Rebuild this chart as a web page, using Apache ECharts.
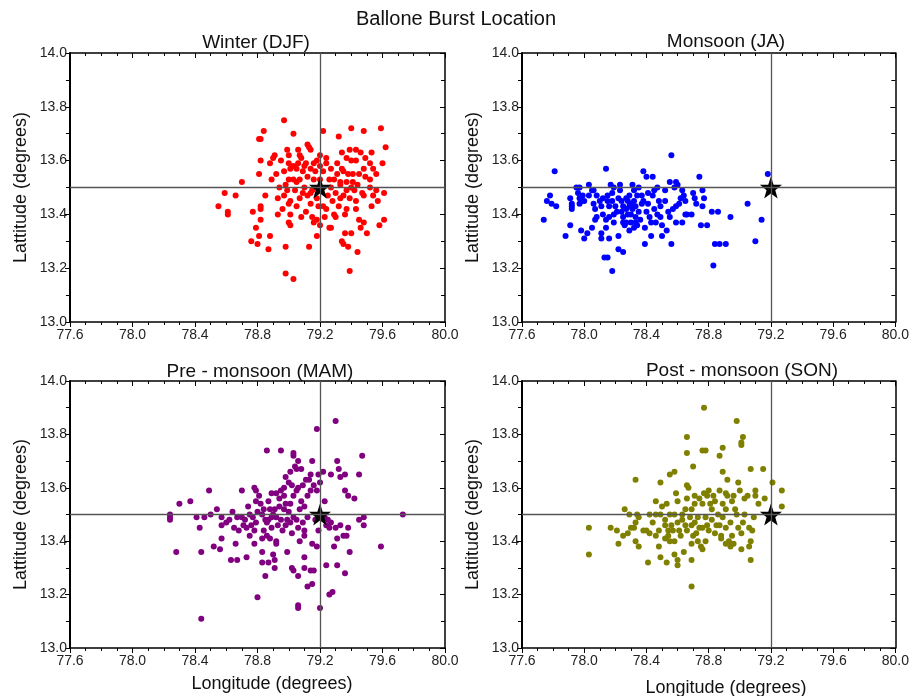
<!DOCTYPE html>
<html>
<head>
<meta charset="utf-8">
<script src="https://cdn.jsdelivr.net/npm/echarts@6/dist/echarts.min.js"></script>
<style>
  html, body { margin: 0; padding: 0; background: #fff; }
  #chart { width: 912px; height: 696px; }
</style>
</head>
<body>
<div id="chart"></div>
<script>
// Axis ticks (degrees)
const lonTicks = [77.6, 78.0, 78.4, 78.8, 79.2, 79.6, 80.0];
const latTicks = [13.0, 13.2, 13.4, 13.6, 13.8, 14.0];

// Reference (launch) position marked with the star and cross lines
const refLon = 79.2;
const refLat = 13.5;

const panelTitles = ['Winter (DJF)', 'Monsoon (JA)', 'Pre - monsoon (MAM)', 'Post - monsoon (SON)'];
const panelColors = ['#ff0000', '#0000ff', '#800080', '#808000'];

// Burst locations [longitude, latitude]
const winterPts = [
  [78.97,13.75],[78.84,13.71],[79.03,13.70],[79.22,13.71],[79.40,13.72],[79.48,13.71],[79.59,13.72],[79.32,13.69],
  [78.82,13.68],[78.81,13.68],[79.12,13.66],[79.13,13.65],[79.62,13.65],[78.99,13.64],[79.14,13.64],[79.39,13.64],
  [79.43,13.64],[79.46,13.63],[79.49,13.61],[79.53,13.63],[79.34,13.63],[78.91,13.62],[78.90,13.61],[79.00,13.62],
  [79.07,13.62],[79.08,13.61],[79.18,13.60],[79.24,13.61],[79.24,13.59],[79.37,13.61],[79.40,13.60],[79.43,13.60],
  [78.82,13.60],[78.88,13.59],[78.95,13.60],[79.00,13.59],[79.03,13.58],[79.06,13.59],[79.11,13.59],[79.16,13.59],
  [79.31,13.59],[79.52,13.59],[79.60,13.59],[79.48,13.57],[79.54,13.57],[78.81,13.55],[78.92,13.55],[78.97,13.56],
  [79.01,13.57],[79.05,13.57],[79.09,13.56],[79.14,13.57],[79.17,13.56],[79.22,13.56],[79.27,13.57],[79.31,13.55],
  [79.35,13.56],[79.38,13.55],[79.41,13.55],[79.45,13.55],[79.49,13.54],[79.52,13.53],[79.56,13.55],[78.89,13.53],
  [79.00,13.53],[79.03,13.53],[79.07,13.53],[79.12,13.54],[79.16,13.53],[79.26,13.53],[79.29,13.53],[79.33,13.52],
  [79.37,13.52],[79.41,13.52],[78.70,13.52],[78.94,13.50],[78.99,13.49],[79.04,13.49],[79.10,13.50],[79.15,13.49],
  [79.27,13.50],[79.33,13.51],[79.37,13.49],[79.42,13.49],[79.47,13.48],[79.56,13.49],[79.61,13.48],[78.59,13.48],
  [78.66,13.47],[78.93,13.46],[78.97,13.47],[79.01,13.45],[79.07,13.46],[79.14,13.48],[79.18,13.46],[79.30,13.48],
  [79.35,13.47],[79.39,13.46],[79.43,13.45],[79.48,13.47],[79.54,13.47],[78.55,13.43],[78.61,13.41],[78.61,13.40],
  [78.77,13.41],[78.82,13.43],[78.82,13.42],[78.96,13.42],[79.00,13.44],[79.05,13.43],[79.14,13.44],[79.19,13.43],
  [79.22,13.43],[79.32,13.43],[79.37,13.42],[79.43,13.42],[79.53,13.43],[79.57,13.45],[78.93,13.40],[79.01,13.40],
  [79.08,13.39],[79.15,13.39],[79.18,13.38],[79.23,13.39],[79.29,13.40],[79.30,13.39],[79.36,13.40],[79.45,13.38],
  [79.48,13.37],[79.61,13.38],[78.82,13.38],[79.00,13.37],[79.01,13.36],[79.16,13.37],[79.20,13.36],[78.79,13.35],
  [79.26,13.35],[79.27,13.35],[79.46,13.35],[79.58,13.36],[78.81,13.32],[78.88,13.32],[79.18,13.32],[79.36,13.33],
  [79.40,13.33],[79.50,13.33],[78.76,13.30],[78.80,13.29],[78.87,13.27],[78.98,13.28],[79.13,13.28],[79.34,13.30],
  [79.35,13.29],[79.38,13.28],[79.44,13.26],[78.98,13.18],[79.03,13.16],[79.39,13.19],
  [79.05,13.52],[79.09,13.48],[79.12,13.47],[79.20,13.53],[79.25,13.47],[79.28,13.45],[78.98,13.51],[79.11,13.41],
  [79.24,13.42],[79.33,13.46],[79.10,13.58],[79.20,13.58],[79.40,13.50],[79.44,13.51],[79.06,13.64],[79.20,13.62],
  [79.34,13.57],[78.85,13.47],[79.52,13.50]
];

const monsoonPts = [
  [77.74,13.38],[77.76,13.45],[77.78,13.47],[77.79,13.44],[77.82,13.43],[77.81,13.56],[77.88,13.32],[77.91,13.36],
  [77.91,13.46],[77.92,13.44],[77.92,13.43],[77.92,13.42],[77.95,13.50],[77.97,13.50],[77.96,13.48],[77.97,13.46],
  [77.98,13.45],[77.97,13.44],[77.98,13.34],[78.00,13.31],[77.99,13.47],[78.00,13.45],[78.02,13.33],[78.03,13.51],
  [78.03,13.47],[78.05,13.49],[78.06,13.49],[78.05,13.35],[78.06,13.44],[78.07,13.42],[78.08,13.39],[78.07,13.38],
  [78.10,13.45],[78.11,13.43],[78.12,13.40],[78.11,13.33],[78.11,13.31],[78.14,13.57],[78.14,13.38],[78.14,13.35],
  [78.13,13.24],[78.15,13.24],[78.15,13.47],[78.15,13.45],[78.16,13.43],[78.16,13.39],[78.16,13.31],[78.17,13.51],
  [78.18,13.48],[78.19,13.50],[78.19,13.40],[78.19,13.37],[78.18,13.19],[78.20,13.43],[78.22,13.46],[78.22,13.32],
  [78.22,13.27],[78.25,13.26],[78.23,13.51],[78.23,13.49],[78.24,13.45],[78.25,13.43],[78.25,13.39],[78.25,13.37],
  [78.26,13.36],[78.27,13.37],[78.27,13.46],[78.28,13.45],[78.29,13.47],[78.29,13.43],[78.30,13.40],[78.30,13.37],
  [78.29,13.34],[78.31,13.51],[78.32,13.49],[78.32,13.45],[78.33,13.43],[78.33,13.39],[78.33,13.37],[78.34,13.36],
  [78.35,13.50],[78.37,13.47],[78.38,13.45],[78.38,13.56],[78.40,13.54],[78.40,13.41],[78.39,13.29],[78.39,13.35],
  [78.41,13.44],[78.42,13.39],[78.43,13.37],[78.43,13.32],[78.44,13.54],[78.44,13.47],[78.45,13.42],[78.46,13.37],
  [78.47,13.50],[78.48,13.45],[78.49,13.43],[78.49,13.39],[78.50,13.36],[78.50,13.32],[78.52,13.45],[78.53,13.34],
  [78.54,13.41],[78.55,13.52],[78.56,13.62],[78.56,13.29],[78.57,13.42],[78.58,13.50],[78.59,13.52],[78.59,13.43],
  [78.60,13.51],[78.61,13.44],[78.62,13.46],[78.63,13.49],[78.59,13.37],[78.63,13.37],[78.64,13.47],[78.65,13.40],
  [78.66,13.40],[78.69,13.40],[78.70,13.48],[78.71,13.46],[78.72,13.44],[78.74,13.54],[78.75,13.36],[78.76,13.43],
  [78.76,13.49],[78.77,13.46],[78.79,13.36],[78.82,13.41],[78.83,13.21],[78.84,13.29],[78.86,13.41],[78.87,13.29],
  [78.91,13.29],[78.94,13.39],[79.05,13.44],[79.10,13.30],[79.14,13.38],[79.18,13.55],
  [78.28,13.40],[78.31,13.42],[78.35,13.41],[78.27,13.42],[78.36,13.38],[78.32,13.35],[78.21,13.41],[78.37,13.44],
  [78.24,13.41],[78.30,13.44],[78.34,13.47],[78.41,13.48],[78.45,13.49],[78.52,13.49],[78.12,13.46],[78.08,13.47],
  [78.18,13.45],[78.47,13.40],[78.55,13.39],[78.65,13.45]
];

const preMonsoonPts = [
  [79.30,13.85],[79.18,13.82],[78.86,13.74],[78.95,13.74],[79.03,13.73],[79.03,13.72],[79.47,13.72],[79.15,13.70],
  [79.06,13.70],[79.31,13.70],[79.04,13.68],[79.05,13.67],[79.08,13.67],[79.01,13.66],[79.32,13.67],[79.36,13.65],
  [79.33,13.64],[79.45,13.65],[79.27,13.65],[79.22,13.66],[78.98,13.64],[79.14,13.65],[79.11,13.63],[79.13,13.63],
  [79.19,13.65],[79.20,13.62],[79.00,13.62],[79.02,13.61],[79.06,13.60],[79.09,13.61],[79.16,13.61],[79.14,13.59],
  [79.18,13.59],[79.05,13.59],[78.78,13.60],[78.79,13.59],[78.70,13.59],[78.49,13.59],[78.89,13.58],[78.92,13.58],
  [78.95,13.59],[79.36,13.59],[79.38,13.57],[79.42,13.56],[78.97,13.57],[78.94,13.56],[79.03,13.57],[79.08,13.55],
  [79.10,13.53],[78.81,13.57],[79.23,13.55],[78.37,13.55],[78.30,13.54],[78.98,13.54],[79.01,13.54],[78.74,13.53],
  [78.79,13.55],[78.82,13.54],[78.84,13.52],[78.88,13.52],[78.91,13.52],[78.94,13.53],[78.97,13.52],[78.54,13.52],
  [78.64,13.51],[78.50,13.50],[78.41,13.49],[78.46,13.49],[78.24,13.50],[78.24,13.49],[78.24,13.48],[78.57,13.49],
  [78.60,13.47],[78.67,13.49],[78.70,13.49],[78.75,13.50],[78.77,13.49],[78.76,13.46],[78.79,13.47],[78.85,13.48],
  [78.86,13.47],[78.87,13.48],[78.89,13.49],[78.92,13.49],[78.93,13.46],[78.98,13.46],[78.99,13.48],[79.01,13.47],
  [79.03,13.49],[79.05,13.48],[79.06,13.45],[79.09,13.47],[79.10,13.44],[79.10,13.42],[79.17,13.48],[79.19,13.44],
  [79.23,13.49],[79.25,13.48],[79.24,13.46],[79.26,13.45],[79.27,13.47],[79.30,13.45],[79.31,13.41],[79.33,13.46],
  [79.35,13.42],[79.37,13.42],[79.38,13.45],[79.45,13.48],[79.48,13.49],[79.48,13.46],[79.73,13.50],[78.43,13.45],
  [78.57,13.46],[78.65,13.45],[78.68,13.44],[78.71,13.46],[78.73,13.45],[78.75,13.42],[78.57,13.41],[78.52,13.38],
  [78.56,13.37],[78.66,13.39],[78.78,13.39],[78.83,13.41],[78.86,13.42],[78.88,13.41],[78.92,13.40],[78.92,13.39],
  [78.83,13.36],[78.99,13.36],[79.07,13.40],[79.15,13.39],[79.18,13.38],[79.29,13.38],[79.39,13.36],[79.59,13.38],
  [78.28,13.36],[78.44,13.36],[78.63,13.33],[78.67,13.33],[78.73,13.34],[78.90,13.35],[78.91,13.33],[78.83,13.32],
  [78.87,13.32],[78.91,13.30],[79.02,13.30],[79.03,13.29],[79.10,13.34],[79.10,13.30],[79.14,13.29],[79.16,13.29],
  [79.06,13.27],[79.24,13.31],[79.31,13.31],[79.36,13.28],[78.85,13.27],[79.15,13.24],[79.12,13.23],[79.28,13.21],
  [79.26,13.20],[78.80,13.19],[79.06,13.16],[79.06,13.15],[79.20,13.15],[78.44,13.11],
  [78.80,13.51],[78.83,13.50],[78.90,13.50],[78.95,13.48],[78.72,13.48],[78.78,13.44],[78.84,13.44],[78.89,13.45],
  [78.96,13.44],[79.00,13.51],[79.07,13.52],[79.12,13.49],[78.62,13.48],[78.87,13.55],[78.97,13.60],[79.12,13.57],
  [79.02,13.43]
];

const postMonsoonPts = [
  [78.77,13.90],[78.98,13.85],[78.66,13.79],[79.02,13.79],[79.01,13.77],[79.01,13.76],[78.76,13.74],[78.78,13.74],
  [78.89,13.75],[78.66,13.73],[78.87,13.72],[78.70,13.68],[79.07,13.67],[79.15,13.67],[78.55,13.65],[78.58,13.66],
  [78.89,13.66],[78.33,13.63],[78.49,13.62],[78.92,13.63],[78.99,13.62],[79.21,13.62],[78.66,13.61],[78.67,13.60],
  [78.59,13.58],[78.77,13.58],[78.80,13.59],[78.83,13.57],[78.87,13.59],[78.91,13.58],[78.92,13.57],[78.95,13.55],
  [79.00,13.59],[79.10,13.59],[79.10,13.57],[79.27,13.59],[78.66,13.56],[78.74,13.56],[78.76,13.54],[78.79,13.57],
  [78.46,13.55],[78.50,13.53],[78.53,13.54],[78.71,13.54],[78.81,13.54],[78.82,13.52],[78.89,13.54],[78.91,13.52],
  [79.03,13.56],[79.05,13.57],[79.16,13.56],[79.12,13.54],[79.27,13.53],[78.26,13.52],[78.29,13.50],[78.34,13.50],
  [78.42,13.50],[78.46,13.50],[78.49,13.50],[78.55,13.50],[78.58,13.50],[78.65,13.52],[78.69,13.52],[78.63,13.50],
  [78.73,13.49],[78.78,13.49],[78.86,13.50],[78.89,13.49],[78.97,13.52],[78.98,13.50],[79.03,13.50],[79.09,13.49],
  [78.35,13.49],[78.03,13.45],[78.17,13.45],[78.21,13.44],[78.25,13.42],[78.28,13.43],[78.30,13.45],[78.32,13.45],
  [78.33,13.47],[78.38,13.44],[78.40,13.44],[78.42,13.43],[78.46,13.42],[78.48,13.44],[78.52,13.46],[78.54,13.44],
  [78.54,13.42],[78.55,13.40],[78.57,13.44],[78.58,13.40],[78.60,13.47],[78.61,13.44],[78.62,13.42],[78.65,13.46],
  [78.69,13.46],[78.66,13.44],[78.70,13.42],[78.72,13.43],[78.73,13.40],[78.76,13.45],[78.75,13.38],[78.76,13.37],
  [78.78,13.40],[78.80,13.44],[78.82,13.48],[78.85,13.46],[78.87,13.46],[78.88,13.42],[78.88,13.41],[78.91,13.39],
  [78.93,13.40],[78.94,13.38],[78.95,13.42],[78.96,13.39],[78.99,13.45],[79.01,13.43],[79.06,13.45],[79.08,13.44],
  [79.07,13.40],[79.06,13.38],[79.01,13.37],[78.22,13.39],[78.33,13.40],[78.35,13.38],[78.03,13.35],[78.48,13.38],
  [78.49,13.34],[78.41,13.32],[78.53,13.32],[78.58,13.35],[78.60,13.33],[78.60,13.31],[78.64,13.36],[78.69,13.33],
  [79.07,13.33],[78.69,13.23],
  [78.44,13.47],[78.52,13.48],[78.56,13.46],[78.63,13.48],[78.68,13.49],[78.71,13.47],[78.74,13.45],[78.79,13.46],
  [78.84,13.43],[78.91,13.45],[78.94,13.47],[79.02,13.47],[78.69,13.39],[78.52,13.41],[78.60,13.55],[78.71,13.57],
  [78.84,13.55],[78.96,13.57]
];

const panelData = [winterPts, monsoonPts, preMonsoonPts, postMonsoonPts];

// Plot-area boxes: top-left, top-right, bottom-left, bottom-right
const grids = [
  { left: 70,  top: 53,  width: 375, height: 269 },
  { left: 522, top: 53,  width: 375, height: 269 },
  { left: 70,  top: 381, width: 375, height: 267 },
  { left: 522, top: 381, width: 375, height: 267 }
];

const FONT = '"Liberation Sans", Arial, sans-serif';
const starPath = 'path://M12,0 L14.8,8.3 L23.6,8.4 L16.6,13.7 L19.1,22.1 L12,17.1 L4.9,22.1 L7.4,13.7 L0.4,8.4 L9.2,8.3 Z';

const lonStep = +(lonTicks[1] - lonTicks[0]).toFixed(2);
const latStep = +(latTicks[1] - latTicks[0]).toFixed(2);

const xAxes = [], yAxes = [], series = [], titles = [], graphics = [];

titles.push({
  text: 'Ballone Burst Location', left: 'center', top: 9, padding: 0,
  textStyle: { fontFamily: FONT, fontSize: 20, fontWeight: 'normal', color: '#111' }
});

const titleCenters = [[256, 33], [726, 32], [260, 362], [742, 361]];

grids.forEach((g, i) => {
  titles.push({
    text: panelTitles[i], left: titleCenters[i][0], top: titleCenters[i][1], textAlign: 'center',
    padding: 0,
    textStyle: { fontFamily: FONT, fontSize: 19, fontWeight: 'normal', color: '#111' }
  });

  const axisLine = { show: true, lineStyle: { color: '#000', width: 1.5 } };
  // bottom axis with labels
  xAxes.push({
    type: 'value', gridIndex: i, position: 'bottom',
    min: lonTicks[0], max: lonTicks[lonTicks.length - 1], interval: lonStep,
    axisLine, splitLine: { show: false },
    axisTick: { show: true, inside: false, length: 5, lineStyle: { color: '#000', width: 1 } },
    minorTick: { show: true, splitNumber: 4, length: 3, lineStyle: { color: '#000', width: 1 } },
    axisLabel: { fontFamily: FONT, fontSize: 14, color: '#222', margin: 6,
      formatter: v => v.toFixed(1) }
  });
  // mirrored top axis
  xAxes.push({
    type: 'value', gridIndex: i, position: 'top',
    min: lonTicks[0], max: lonTicks[lonTicks.length - 1], interval: lonStep,
    axisLine, splitLine: { show: false },
    axisTick: { show: true, inside: true, length: 5, lineStyle: { color: '#000', width: 1 } },
    minorTick: { show: true, splitNumber: 4, length: 3, lineStyle: { color: '#000', width: 1 } },
    axisLabel: { show: false }
  });
  // left axis with labels
  yAxes.push({
    type: 'value', gridIndex: i, position: 'left',
    min: latTicks[0], max: latTicks[latTicks.length - 1], interval: latStep,
    axisLine: { show: true, lineStyle: { color: '#000', width: 2 } }, splitLine: { show: false },
    axisTick: { show: true, inside: false, length: 5, lineStyle: { color: '#000', width: 1 } },
    minorTick: { show: true, splitNumber: 2, length: 4, lineStyle: { color: '#000', width: 1 } },
    axisLabel: { fontFamily: FONT, fontSize: 14, color: '#222', margin: 3,
      formatter: v => v.toFixed(1) }
  });
  // mirrored right axis
  yAxes.push({
    type: 'value', gridIndex: i, position: 'right',
    min: latTicks[0], max: latTicks[latTicks.length - 1], interval: latStep,
    axisLine, splitLine: { show: false },
    axisTick: { show: true, inside: true, length: 5, lineStyle: { color: '#000', width: 1 } },
    minorTick: { show: true, splitNumber: 2, length: 4, lineStyle: { color: '#000', width: 1 } },
    axisLabel: { show: false }
  });

  const xi = i * 2, yi = i * 2;

  series.push({
    type: 'scatter', xAxisIndex: xi, yAxisIndex: yi,
    data: panelData[i], symbol: 'circle', symbolSize: 6,
    itemStyle: { color: panelColors[i], opacity: 1 },
    silent: true, z: 2
  });

  // cross lines through the reference position
  series.push({
    type: 'scatter', xAxisIndex: xi, yAxisIndex: yi, data: [], z: 3, silent: true,
    markLine: {
      silent: true, symbol: ['none', 'none'], animation: false,
      label: { show: false },
      lineStyle: { color: '#555', width: 1.3, type: 'solid', opacity: 1 },
      data: [{ xAxis: refLon }, { yAxis: refLat }]
    }
  });

  // star at the reference position
  series.push({
    type: 'scatter', xAxisIndex: xi, yAxisIndex: yi,
    data: [[refLon, refLat]], symbol: starPath, symbolSize: 22,
    itemStyle: { color: '#000', opacity: 1 }, silent: true, z: 4
  });

  // y-axis title
  graphics.push({
    type: 'text', x: g.left - 49, y: g.top + g.height / 2, rotation: Math.PI / 2,
    style: { text: 'Lattitude (degrees)', fontFamily: FONT, fontSize: 18, fill: '#111',
      textAlign: 'center', textVerticalAlign: 'middle' }
  });
});

// x-axis titles under the bottom row
graphics.push({
  type: 'text', x: 272, y: 684,
  style: { text: 'Longitude (degrees)', fontFamily: FONT, fontSize: 18, fill: '#111',
    textAlign: 'center', textVerticalAlign: 'middle' }
});
graphics.push({
  type: 'text', x: 726, y: 688,
  style: { text: 'Longitude (degrees)', fontFamily: FONT, fontSize: 18, fill: '#111',
    textAlign: 'center', textVerticalAlign: 'middle' }
});

const chart = echarts.init(document.getElementById('chart'), null, { renderer: 'canvas' });
chart.setOption({
  animation: false,
  backgroundColor: '#fff',
  title: titles,
  grid: grids,
  xAxis: xAxes,
  yAxis: yAxes,
  series: series,
  graphic: graphics
});
</script>
</body>
</html>
